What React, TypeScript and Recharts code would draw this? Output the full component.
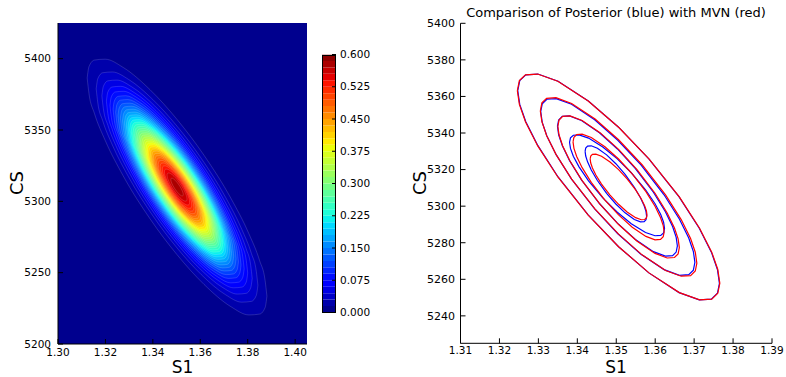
import {
  ComposedChart,
  BarChart,
  Bar,
  Area,
  Line,
  XAxis,
  YAxis,
  ReferenceArea
} from "recharts";

// outline of one tilted contour ring, in units of its half sizes: [s1, low CS, high CS]
const ringShape = [
  [-1, 0.85, 0.85],
  [-0.98, 0.728, 0.938],
  [-0.92, 0.575, 0.989],
  [-0.8, 0.364, 0.996],
  [-0.6, 0.088, 0.932],
  [-0.3, -0.248, 0.758],
  [0, -0.527, 0.527],
  [0.3, -0.758, 0.248],
  [0.6, -0.932, -0.088],
  [0.8, -0.996, -0.364],
  [0.92, -0.989, -0.575],
  [0.98, -0.938, -0.728],
  [1, -0.85, -0.85]
];

// left panel: filled density contours
const fillCenterS1 = 1.3502;
const fillCenterCS = 5310;
const fillLevels = [
  0.015, 0.03, 0.045, 0.06, 0.075, 0.09, 0.105, 0.12, 0.135, 0.15, 0.165, 0.18, 0.195,
  0.21, 0.225, 0.24, 0.255, 0.27, 0.285, 0.3, 0.315, 0.33, 0.345, 0.36, 0.375, 0.39,
  0.405, 0.42, 0.435, 0.45, 0.465, 0.48, 0.495, 0.51, 0.525, 0.54, 0.555, 0.57
];
const fillHalfS1 = [
  0.0379, 0.0341, 0.0317, 0.0298, 0.0283, 0.027, 0.0259, 0.0249, 0.0239, 0.023, 0.0222,
  0.0214, 0.0207, 0.02, 0.0193, 0.0186, 0.0179, 0.0173, 0.0167, 0.0161, 0.0155, 0.0149,
  0.0143, 0.0137, 0.0131, 0.0125, 0.0119, 0.0112, 0.0106, 0.01, 0.0093, 0.0086, 0.0079,
  0.0071, 0.0062, 0.0053, 0.0042, 0.0026
];
const fillHalfCS = [
  90.0, 81.0, 75.3, 70.9, 67.4, 64.3, 61.6, 59.1, 56.9, 54.8, 52.8, 50.9, 49.2, 47.5, 45.8,
  44.2, 42.7, 41.2, 39.7, 38.2, 36.8, 35.4, 33.9, 32.5, 31.1, 29.7, 28.2, 26.8, 25.3, 23.7,
  22.1, 20.5, 18.7, 16.9, 14.9, 12.6, 9.9, 6.2
];

// colorbar
const cbLevels = [
  0, 0.015, 0.03, 0.045, 0.06, 0.075, 0.09, 0.105, 0.12, 0.135, 0.15, 0.165, 0.18, 0.195,
  0.21, 0.225, 0.24, 0.255, 0.27, 0.285, 0.3, 0.315, 0.33, 0.345, 0.36, 0.375, 0.39, 0.405,
  0.42, 0.435, 0.45, 0.465, 0.48, 0.495, 0.51, 0.525, 0.54, 0.555, 0.57, 0.585, 0.6
];
const cbTicks = [0, 0.075, 0.15, 0.225, 0.3, 0.375, 0.45, 0.525, 0.6];

const leftXTicks = [1.3, 1.32, 1.34, 1.36, 1.38, 1.4];
const leftYTicks = [5200, 5250, 5300, 5350, 5400];
const rightXTicks = [1.31, 1.32, 1.33, 1.34, 1.35, 1.36, 1.37, 1.38, 1.39];
const rightYTicks = [5240, 5260, 5280, 5300, 5320, 5340, 5360, 5380, 5400];

// right panel: MVN contours (red)
const mvnCenterS1 = [1.3506, 1.3506, 1.3506, 1.3506, 1.3506];
const mvnCenterCS = [5310.5, 5310.5, 5310.5, 5310.5, 5310.5];
const mvnHalfS1 = [0.026, 0.0201, 0.0156, 0.0117, 0.0073];
const mvnHalfCS = [62, 49, 39, 29, 18];

// right panel: posterior contours (blue)
const postCenterS1 = [1.3506, 1.3504, 1.3503, 1.3502, 1.3499];
const postCenterCS = [5310.5, 5310.5, 5311, 5311.4, 5312.2];
const postHalfS1 = [0.0259, 0.0198, 0.0154, 0.0122, 0.0079];
const postHalfCS = [62, 48.5, 38.5, 27.7, 20.9];

// matplotlib "jet"
const jetR = [[0, 0], [0.35, 0], [0.66, 1], [0.89, 1], [1, 0.5]];
const jetG = [[0, 0], [0.125, 0], [0.375, 1], [0.64, 1], [0.91, 0], [1, 0]];
const jetB = [[0, 0.5], [0.11, 1], [0.34, 1], [0.65, 0], [1, 0]];

function seg(pts: number[][], t: number) {
  for (let i = 1; i < pts.length; i++) {
    if (t <= pts[i][0]) {
      const [x0, y0] = pts[i - 1];
      const [x1, y1] = pts[i];
      return y0 + ((t - x0) / (x1 - x0)) * (y1 - y0);
    }
  }
  return pts[pts.length - 1][1];
}

function jet(t: number) {
  const c = (v: number) => Math.round(v * 255);
  return `rgb(${c(seg(jetR, t))},${c(seg(jetG, t))},${c(seg(jetB, t))})`;
}

const fillRings = fillLevels.map((lvl, i) => ({
  color: jet((lvl + 0.0075) / 0.6),
  data: ringShape.map(([u, lo, hi]) => ({
    x: fillCenterS1 + u * fillHalfS1[i],
    y: [fillCenterCS + lo * fillHalfCS[i], fillCenterCS + hi * fillHalfCS[i]]
  }))
}));

function loop(cx: number, cy: number, hx: number, hy: number) {
  const upper = ringShape.map(([u, , hi]) => ({ x: cx + u * hx, y: cy + hi * hy }));
  const lower = ringShape
    .slice(0, -1)
    .reverse()
    .map(([u, lo]) => ({ x: cx + u * hx, y: cy + lo * hy }));
  return [...upper, ...lower];
}

const postLoops = postHalfS1.map((hx, i) =>
  loop(postCenterS1[i], postCenterCS[i], hx, postHalfCS[i])
);
const mvnLoops = mvnHalfS1.map((hx, i) =>
  loop(mvnCenterS1[i], mvnCenterCS[i], hx, mvnHalfCS[i])
);

const cbRow: Record<string, any> = { name: "cb" };
cbLevels.slice(1).forEach((v, i) => {
  cbRow["b" + i] = v - cbLevels[i];
});

const leftTickFont = { fill: "#000", fontSize: 10.5 };
const rightTickFont = { fill: "#000", fontSize: 11 };
const rightXTickFont = { fill: "#000", fontSize: 10.5 };

function App() {
  return (
    <div
      style={{
        position: "absolute",
        left: 0,
        top: 0,
        width: 786,
        height: 377,
        background: "#fff",
        fontFamily: "'DejaVu Sans', sans-serif"
      }}
    >
      {/* density */}
      <div style={{ position: "absolute", left: 0, top: 0 }}>
        <ComposedChart
          width={330}
          height={377}
          margin={{ top: 23, right: 23, bottom: 3, left: 13 }}
        >
          <ReferenceArea
            xAxisId="b"
            yAxisId="l"
            x1={1.3}
            x2={1.405}
            y1={5200}
            y2={5425}
            fill={jet(0.0125)}
            fillOpacity={1}
            stroke="none"
          />
          {fillRings.map((r, i) => (
            <Area
              key={i}
              xAxisId="b"
              yAxisId="l"
              data={r.data}
              dataKey="y"
              type="monotone"
              fill={r.color}
              fillOpacity={1}
              stroke="#ffffff"
              strokeOpacity={0.25}
              strokeWidth={0.6}
              dot={false}
              activeDot={false}
              isAnimationActive={false}
            />
          ))}
          <XAxis
            xAxisId="b"
            type="number"
            dataKey="x"
            domain={[1.3, 1.405]}
            ticks={leftXTicks}
            allowDataOverflow
            height={30}
            stroke="#000"
            tickSize={-5}
            tickMargin={10}
            tick={leftTickFont}
            tickFormatter={(v) => v.toFixed(2)}
          />
          <XAxis
            xAxisId="t"
            orientation="top"
            type="number"
            domain={[1.3, 1.405]}
            ticks={leftXTicks}
            allowDataOverflow
            height={0}
            stroke="#000"
            tickSize={-5}
            tick={false}
          />
          <YAxis
            yAxisId="l"
            type="number"
            domain={[5200, 5425]}
            ticks={leftYTicks}
            allowDataOverflow
            width={45}
            stroke="#000"
            tickSize={-5}
            tickMargin={12}
            tick={leftTickFont}
          />
          <YAxis
            yAxisId="r"
            orientation="right"
            type="number"
            domain={[5200, 5425]}
            ticks={leftYTicks}
            allowDataOverflow
            width={0}
            stroke="#000"
            tickSize={-5}
            tick={false}
          />
        </ComposedChart>
      </div>

      {/* colorbar */}
      <div style={{ position: "absolute", left: 312, top: 0 }}>
        <BarChart
          width={80}
          height={377}
          data={[cbRow]}
          margin={{ top: 54.5, right: 12, bottom: 64.5, left: 10 }}
          barCategoryGap={0}
          barGap={0}
        >
          <XAxis dataKey="name" hide />
          <YAxis
            orientation="right"
            type="number"
            domain={[0, 0.6]}
            ticks={cbTicks}
            allowDataOverflow
            width={44}
            axisLine={false}
            stroke="#000"
            tickSize={-4}
            tickMargin={8}
            tick={leftTickFont}
            tickFormatter={(v) => v.toFixed(3)}
          />
          {cbLevels.slice(1).map((v, i) => (
            <Bar
              key={i}
              dataKey={"b" + i}
              stackId="cb"
              fill={jet((v + cbLevels[i]) / 2 / 0.6)}
              isAnimationActive={false}
            />
          ))}
        </BarChart>
        <div
          style={{
            position: "absolute",
            left: 10,
            top: 54.5,
            width: 14,
            height: 258,
            border: "1px solid #000",
            boxSizing: "border-box"
          }}
        />
      </div>

      {/* comparison */}
      <div style={{ position: "absolute", left: 400, top: 0 }}>
        <ComposedChart
          width={386}
          height={377}
          margin={{ top: 23.3, right: 14, bottom: 3.7, left: 15.5 }}
        >
          {postLoops.map((d, i) => (
            <Line
              key={"p" + i}
              xAxisId="b"
              yAxisId="l"
              data={d}
              dataKey="y"
              type="linear"
              stroke="#0000ff"
              strokeWidth={1.2}
              dot={false}
              activeDot={false}
              isAnimationActive={false}
            />
          ))}
          {mvnLoops.map((d, i) => (
            <Line
              key={"m" + i}
              xAxisId="b"
              yAxisId="l"
              data={d}
              dataKey="y"
              type="linear"
              stroke="#ff0000"
              strokeWidth={1.2}
              dot={false}
              activeDot={false}
              isAnimationActive={false}
            />
          ))}
          <XAxis
            xAxisId="b"
            type="number"
            dataKey="x"
            domain={[1.31, 1.39]}
            ticks={rightXTicks}
            allowDataOverflow
            height={30}
            stroke="#000"
            tickSize={-5}
            tickMargin={8.5}
            tick={rightXTickFont}
            tickFormatter={(v) => v.toFixed(2)}
          />
          <XAxis
            xAxisId="t"
            orientation="top"
            type="number"
            domain={[1.31, 1.39]}
            ticks={rightXTicks}
            allowDataOverflow
            height={0}
            stroke="#000"
            tickSize={-5}
            tick={false}
          />
          <YAxis
            yAxisId="l"
            type="number"
            domain={[5225, 5400]}
            ticks={rightYTicks}
            allowDataOverflow
            width={45}
            stroke="#000"
            tickSize={-5}
            tickMargin={10.5}
            tick={rightTickFont}
          />
          <YAxis
            yAxisId="r"
            orientation="right"
            type="number"
            domain={[5225, 5400]}
            ticks={rightYTicks}
            allowDataOverflow
            width={0}
            stroke="#000"
            tickSize={-5}
            tick={false}
          />
        </ComposedChart>
      </div>

      {/* titles */}
      <svg
        width={786}
        height={377}
        style={{ position: "absolute", left: 0, top: 0, pointerEvents: "none" }}
      >
        <text x={182.5} y={373} textAnchor="middle" fontSize={17} fill="#000">
          S1
        </text>
        <text
          x={0}
          y={0}
          transform="translate(23,183) rotate(-90)"
          textAnchor="middle"
          fontSize={18}
          fill="#000"
        >
          CS
        </text>
        <text x={616} y={373} textAnchor="middle" fontSize={17} fill="#000">
          S1
        </text>
        <text
          x={0}
          y={0}
          transform="translate(426,183) rotate(-90)"
          textAnchor="middle"
          fontSize={18}
          fill="#000"
        >
          CS
        </text>
        <text x={616} y={17} textAnchor="middle" fontSize={13} fill="#000">
          Comparison of Posterior (blue) with MVN (red)
        </text>
      </svg>
    </div>
  );
}

export default App;
